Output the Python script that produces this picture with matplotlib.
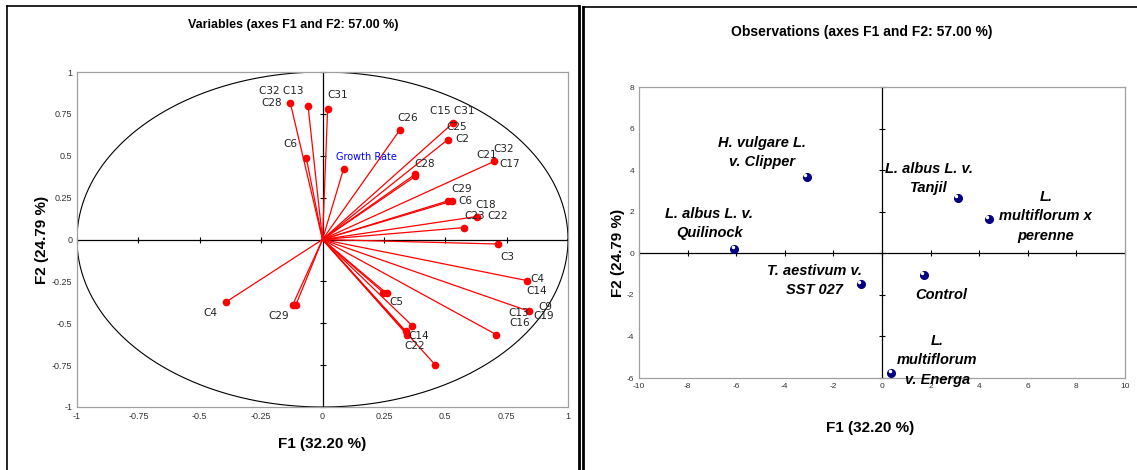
import numpy as np
import matplotlib
matplotlib.use("Agg")
import matplotlib.pyplot as plt
from matplotlib.lines import Line2D

plt.rcParams['font.family'] = ['Liberation Sans', 'DejaVu Sans']
plt.rcParams['axes.unicode_minus'] = False
NARROW = ['Liberation Sans Narrow', 'Liberation Sans', 'DejaVu Sans']

# --- variables (correlation circle) ---
var_x = [-0.131, -0.059, 0.021, -0.066, 0.086, 0.314, 0.532, 0.510, 0.700,
         0.378, 0.378, 0.512, 0.527, 0.628, 0.576, 0.716, 0.832, 0.841,
         0.708, 0.248, 0.261, 0.365, 0.340, 0.344, 0.460, -0.394, -0.109, -0.121]
var_y = [0.815, 0.800, 0.780, 0.488, 0.423, 0.652, 0.696, 0.596, 0.467,
         0.377, 0.390, 0.231, 0.229, 0.137, 0.071, -0.027, -0.245, -0.428,
         -0.568, -0.317, -0.321, -0.514, -0.548, -0.568, -0.750, -0.374, -0.393, -0.389]

var_labels = ["C32 C13", "C28", "C31", "C6", "C26", "C15 C31", "C25", "C2",
              "C21", "C32", "C17", "C28", "C29", "C6", "C18", "C23", "C22",
              "C3", "C4", "C14", "C9", "C13", "C19", "C16", "C5", "C14",
              "C22", "C4", "C29"]
var_lab_x = [-0.168, -0.205, 0.063, -0.132, 0.348, 0.528, 0.548, 0.568,
             0.670, 0.739, 0.763, 0.418, 0.568, 0.584, 0.666, 0.621, 0.715,
             0.755, 0.874, 0.874, 0.906, 0.800, 0.902, 0.804, 0.300, 0.393,
             0.377, -0.458, -0.177]
var_lab_y = [0.886, 0.814, 0.862, 0.568, 0.723, 0.766, 0.670, 0.598,
             0.507, 0.543, 0.453, 0.453, 0.303, 0.231, 0.207, 0.141, 0.141,
             -0.105, -0.237, -0.309, -0.405, -0.440, -0.459, -0.500, -0.375,
             -0.579, -0.634, -0.441, -0.459]
growth_label = ("Growth Rate", 0.18, 0.49)

# --- observations ---
obs_x = [-3.09, -6.07, -0.86, 3.13, 4.39, 1.74, 0.39]
obs_y = [3.67, 0.20, -1.49, 2.66, 1.63, -1.06, -5.78]
obs_labels = ["H. vulgare L.\nv. Clipper", "L. albus L. v.\nQuilinock",
              "T. aestivum v.\nSST 027", "L. albus L. v.\nTanjil",
              "L.\nmultiflorum x\nperenne", "Control",
              "L.\nmultiflorum\nv. Energa"]
obs_lab_x = [-4.92, -7.1, -2.77, 1.94, 6.74, 2.44, 2.27]
obs_lab_y = [4.86, 1.44, -1.30, 3.60, 1.78, -2.02, -5.14]

left_ticks = [-1, -0.75, -0.5, -0.25, 0, 0.25, 0.5, 0.75, 1]
right_xticks = [-10, -8, -6, -4, -2, 0, 2, 4, 6, 8, 10]
right_yticks = [-6, -4, -2, 0, 2, 4, 6, 8]

W, H = 1137, 470
fig = plt.figure(figsize=(W / 100, H / 100), dpi=100)


def fx(px):
    return px / W


def fy(py):
    return 1 - py / H


# panel borders
for xs, ys, lw in [([7, 7], [6, 470], 1.2), ([7, 579], [6, 6], 1.2),
                   ([579, 579], [6, 470], 2.0), ([583, 583], [7, 470], 2.0),
                   ([583, 1137], [7, 7], 1.2)]:
    fig.add_artist(Line2D([fx(x) for x in xs], [fy(y) for y in ys],
                          color='black', lw=lw))


def style_axes(ax, xt, yt):
    for s in ax.spines.values():
        s.set_color('#a0a0a0')
        s.set_linewidth(0.9)
    ax.set_xticks(xt)
    ax.set_yticks(yt)
    ax.tick_params(length=0, labelsize=6.5, colors='#333333')
    # zero lines with small tick marks
    ax.axhline(0, color='black', lw=0.9, zorder=1)
    ax.axvline(0, color='black', lw=0.9, zorder=1)
    ax.plot(xt, [0] * len(xt), ls='none', marker='|', color='black',
            ms=5, mew=0.8, clip_on=False, zorder=1)
    ax.plot([0] * len(yt), yt, ls='none', marker='_', color='black',
            ms=5, mew=0.8, clip_on=False, zorder=1)


# ---------- left panel ----------
ax1 = fig.add_axes([fx(77), fy(407), fx(568) - fx(77), fy(72) - fy(407)])
ax1.set_xlim(-1, 1)
ax1.set_ylim(-1, 1)
style_axes(ax1, left_ticks, left_ticks)
ax1.set_xticklabels(["-1", "-0.75", "-0.5", "-0.25", "0", "0.25", "0.5", "0.75", "1"])
ax1.set_yticklabels(["-1", "-0.75", "-0.5", "-0.25", "0", "0.25", "0.5", "0.75", "1"])

theta = np.linspace(0, 2 * np.pi, 400)
ax1.plot(np.cos(theta), np.sin(theta), color='black', lw=0.8, zorder=2)

for x, y in zip(var_x, var_y):
    ax1.plot([0, x], [0, y], color='red', lw=0.9, zorder=3)
ax1.plot(var_x, var_y, 'o', color='red', ms=4.5, zorder=4)

for t, x, y in zip(var_labels, var_lab_x, var_lab_y):
    ax1.text(x, y, t, fontsize=7.5, color='#222222', ha='center', va='center',
             family=['DejaVu Sans'], zorder=5)
ax1.text(growth_label[1], growth_label[2], growth_label[0], fontsize=7,
         color='blue', ha='center', va='center', family=['DejaVu Sans'])

fig.text(fx(293), fy(25), "Variables (axes F1 and F2: 57.00 %)",
         ha='center', va='center', fontsize=9, fontweight='bold')
fig.text(fx(322), fy(444), "F1 (32.20 %)", ha='center', va='center',
         fontsize=11, fontweight='bold')
fig.text(fx(42), fy(240), "F2 (24.79 %)", ha='center', va='center',
         fontsize=11, fontweight='bold', rotation=90)

# ---------- right panel ----------
ax2 = fig.add_axes([fx(639), fy(378), fx(1125) - fx(639), fy(87) - fy(378)])
ax2.set_xlim(-10, 10)
ax2.set_ylim(-6, 8)
style_axes(ax2, right_xticks, right_yticks)
ax2.tick_params(labelsize=6)

ax2.plot(obs_x, obs_y, 'o', color='#000080', ms=5.5, zorder=4, clip_on=False)
ax2.plot([x - 0.08 for x in obs_x], [y + 0.12 for y in obs_y], 'o',
         color='white', ms=1.5, zorder=5, clip_on=False)

for t, x, y in zip(obs_labels, obs_lab_x, obs_lab_y):
    ax2.text(x, y, t, fontsize=10.5, ha='center', va='center', fontweight='bold',
             fontstyle='italic', family=NARROW, linespacing=1.5,
             zorder=6, clip_on=False)

fig.text(fx(862), fy(32), "Observations (axes F1 and F2: 57.00 %)",
         ha='center', va='center', fontsize=10, fontweight='bold', family=NARROW)
fig.text(fx(870), fy(428), "F1 (32.20 %)", ha='center', va='center',
         fontsize=11, fontweight='bold', family=NARROW)
fig.text(fx(618), fy(253), "F2 (24.79 %)", ha='center', va='center',
         fontsize=11, fontweight='bold', rotation=90, family=NARROW)

fig.savefig("out.png", dpi=100)
